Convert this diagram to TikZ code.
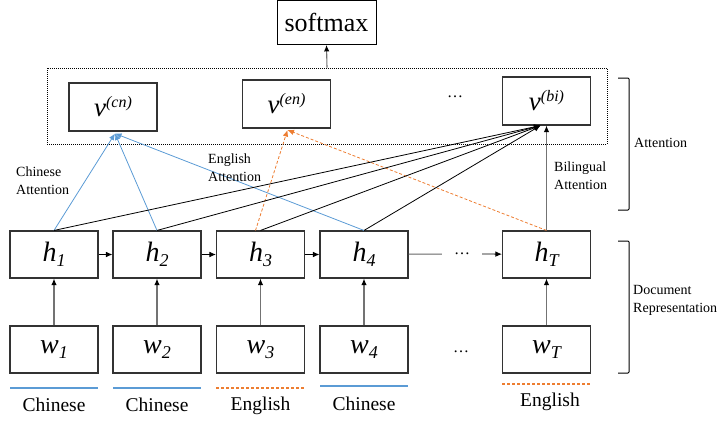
\documentclass[tikz,border=0pt]{standalone}
\usepackage{fontspec}
\setmainfont{Liberation Serif}
\usetikzlibrary{arrows.meta}
\definecolor{cnblue}{HTML}{5B9BD5}
\definecolor{enorange}{HTML}{ED7D31}
\definecolor{boxline}{HTML}{333333}
\newcommand{\symsub}[2]{{\fontsize{28}{30}\selectfont\itshape #1}\raisebox{-5pt}{\fontsize{18}{20}\selectfont\itshape #2}}
\newcommand{\symsup}[2]{{\fontsize{27}{28}\selectfont\itshape #1}\raisebox{9pt}{\fontsize{16}{17}\selectfont\itshape (#2)}}
\tikzset{
  unit/.style={draw=boxline, line width=1.1pt, minimum width=88pt, minimum height=47pt, inner sep=0pt},
  vunit/.style={unit, minimum height=48pt},
  tip/.style={-{Latex[length=6.5pt,width=5.5pt]}},
  feed/.style={-{Latex[length=6.5pt,width=5.5pt,color=black]}, draw=black!55, line width=1.1pt},
  link/.style={tip, black, line width=0.8pt},
  cnlink/.style={tip, cnblue, line width=0.8pt},
  enlink/.style={tip, enorange, line width=0.8pt, dash pattern=on 3pt off 2pt},
  note/.style={font=\fontsize{14}{18}\selectfont, align=left, inner sep=0pt},
  lang/.style={font=\fontsize{19.5}{22}\selectfont, inner sep=0pt},
  dotsnode/.style={font=\fontsize{16}{18}\selectfont, text height=1.5pt, text depth=0pt, inner ysep=0pt, inner xsep=12pt},
  bracket/.style={draw=black, line width=1pt, rounded corners=1pt}
}
\begin{document}
\begin{tikzpicture}[x=1pt, y=-1pt]
\useasboundingbox (0,0) rectangle (726,423);

% output layer
\node[draw=black, line width=0.9pt, minimum width=99pt, minimum height=44pt, inner sep=0pt,
      font=\fontsize{26}{28}\selectfont] (softmax) at (326.5,22.5) {softmax};

% attention block
\node[draw=black, line width=0.7pt, dash pattern=on 1pt off 1pt, minimum width=560pt, minimum height=76pt, inner sep=0pt] (attbox) at (327,106) {};
\node[vunit] (vcn) at (113,107) {\symsup{v}{cn}};
\node[vunit] (ven) at (286.5,104) {\symsup{v}{en}};
\node[dotsnode] (vdots) at (455,97) {\ldots};
\node[vunit] (vbi) at (546.5,101) {\symsup{v}{bi}};

% hidden states
\node[unit] (h1) at (54,254.5) {\symsub{h}{1}};
\node[unit] (h2) at (157,254.5) {\symsub{h}{2}};
\node[unit] (h3) at (260.5,254.5) {\symsub{h}{3}};
\node[unit] (h4) at (364,254.5) {\symsub{h}{4}};
\node[dotsnode] (hdots) at (462,254) {\ldots};
\node[unit] (hT) at (546.5,254.5) {\symsub{h}{T}};

% word inputs
\node[unit] (w1) at (54,349.5) {\symsub{w}{1}};
\node[unit] (w2) at (157,349.5) {\symsub{w}{2}};
\node[unit] (w3) at (260.5,349.5) {\symsub{w}{3}};
\node[unit] (w4) at (364,349.5) {\symsub{w}{4}};
\node[dotsnode] (wdots) at (461,352) {\ldots};
\node[unit] (wT) at (546.5,349.5) {\symsub{w}{T}};

% recurrence
\draw[link] (h1) -- (h2);
\draw[link] (h2) -- (h3);
\draw[link] (h3) -- (h4);
\draw[black!60, line width=1pt] (h4) -- (hdots.west);
\draw[link] (hdots.east) -- (hT);

% inputs to hidden states
\foreach \i in {1,2,3,4,T} \draw[feed] (w\i) -- (h\i);

% attention links
\coordinate (cnend) at ([xshift=2pt,yshift=-2pt]vcn.south);
\draw[cnlink] (h1.north) -- (cnend);
\draw[cnlink] (h2.north) -- (cnend);
\draw[cnlink] (h4.north) -- (cnend);
\coordinate (enend) at ([xshift=1pt,yshift=-1.5pt]ven.south);
\draw[enlink] ([xshift=-5pt]h3.north) -- (enend);
\draw[enlink] (hT.north) -- (enend);
\coordinate (biend) at ([xshift=-6pt]vbi.south);
\foreach \i in {1,2,3,4} \draw[link] (h\i.north) -- (biend);
\draw[feed] (hT.north) -- (vbi.south);
\draw[feed] (attbox.north) -- (softmax.south);

% link labels
\node[note, anchor=west] (cnlab) at (16,181) {Chinese\\Attention};
\node[note, anchor=west] (enlab) at (208,168) {English\\Attention};
\node[note, anchor=west] (bilab) at (554,176) {Bilingual\\Attention};

% layer brackets
\draw[bracket] (618,78) -- (629,78) -- (629,210) -- (618,210);
\node[note, anchor=west] (attlab) at (634,143) {Attention};
\draw[bracket] (618,241) -- (629,241) -- (629,373) -- (618,373);
\node[note, anchor=west] (doclab) at (633,300) {Document\\Representation};

% language of each word
\draw[cnblue, line width=1.1pt] (10,388) -- (98,388);
\draw[cnblue, line width=1.1pt] (113,388) -- (201,388);
\draw[enorange, line width=1.1pt, dash pattern=on 3pt off 2pt] (216,388) -- (305,388);
\draw[cnblue, line width=1.1pt] (320,386) -- (408,386);
\draw[enorange, line width=1.1pt, dash pattern=on 3pt off 2pt] (502,384) -- (591,384);
\node[lang] (l1) at (54,405) {Chinese};
\node[lang] (l2) at (157,405) {Chinese};
\node[lang] (l3) at (260.5,406) {English};
\node[lang] (l4) at (364,404) {Chinese};
\node[lang] (l5) at (550,402) {English};
\end{tikzpicture}
\end{document}
